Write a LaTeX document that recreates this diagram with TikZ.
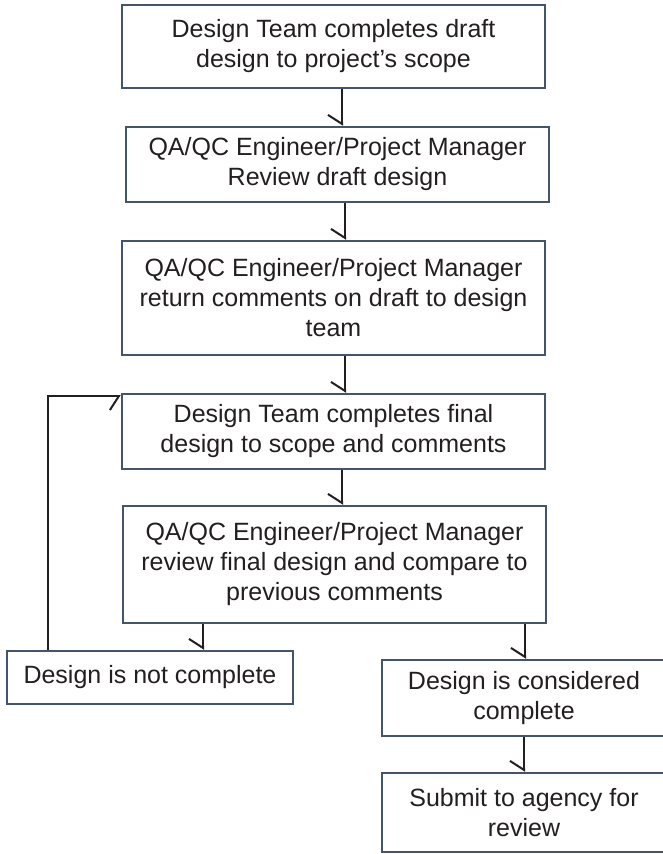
\documentclass[tikz,border=0pt]{standalone}
\usepackage{fontspec}
\setmainfont{Liberation Sans}
\usepackage{tikz}
\usetikzlibrary{arrows.meta}
\definecolor{boxline}{RGB}{68,84,106}
\definecolor{ink}{RGB}{35,31,32}
\tikzset{
  box/.style={draw=boxline, line width=2.5pt, fill=white, inner sep=0pt, align=center,
    text=ink, font=\fontsize{25}{30}\selectfont},
  flow/.style={draw=ink, line width=2pt, -{Straight Barb[right, length=9pt, width=28pt]}}
}

\begin{document}
\begin{tikzpicture}[x=1pt,y=1pt]
\useasboundingbox (0,0) rectangle (663,-854);
\node[box, minimum width=423, minimum height=83] (n1) at (333.5,-46.5) {Design Team completes draft\\design to project’s scope};
\node[box, minimum width=423, minimum height=75] (n2) at (337.5,-164.5) {QA/QC Engineer/Project Manager\\Review draft design};
\node[box, minimum width=423, minimum height=114] (n3) at (333.5,-298) {QA/QC Engineer/Project Manager\\return comments on draft to design\\team};
\node[box, minimum width=423, minimum height=75] (n4) at (333.5,-431.5) {Design Team completes final\\design to scope and comments};
\node[box, minimum width=423, minimum height=117] (n5) at (334.5,-564.5) {QA/QC Engineer/Project Manager\\review final design and compare to\\previous comments};
\node[box, minimum width=286, minimum height=53] (n6) at (150,-677.5) {Design is not complete};
\node[box, minimum width=284, minimum height=76] (n7) at (524,-698) {Design is considered\\complete};
\node[box, minimum width=284, minimum height=79] (n8) at (524,-812.5) {Submit to agency for\\review};
% connectors
\draw[flow] (n1.south -| 342,0) -- (n2.north -| 342,0);
\draw[flow] (n2.south -| 345,0) -- (n3.north -| 345,0);
\draw[flow] (n3.south -| 345,0) -- (n4.north -| 345,0);
\draw[flow] (n4.south -| 342,0) -- (n5.north -| 342,0);
\draw[flow] (n5.south -| 203,0) -- (n6.north -| 203,0);
\draw[flow] (n5.south -| 525,0) -- (n7.north -| 525,0);
\draw[flow] (n7.south -| 524,0) -- (n8.north -| 524,0);
\draw[flow] (n6.north -| 48,0) |- (n4.west |- 0,-396);
\end{tikzpicture}
\end{document}
